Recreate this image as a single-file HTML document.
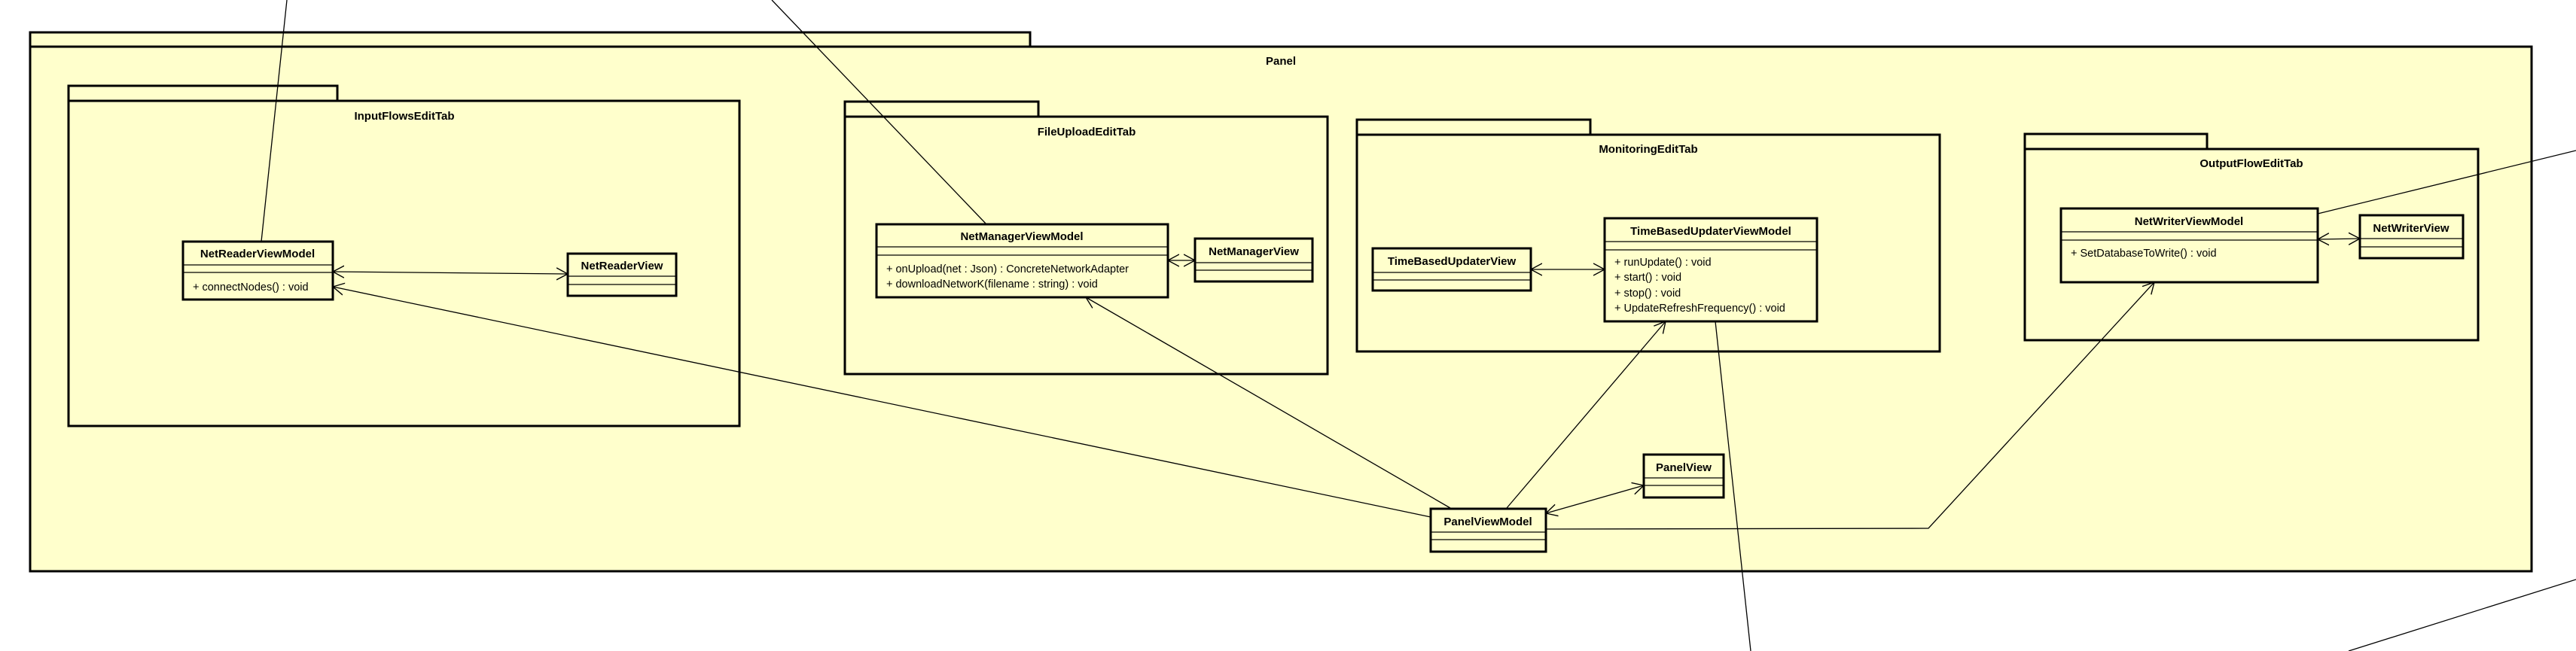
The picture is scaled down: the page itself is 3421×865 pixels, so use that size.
<!DOCTYPE html>
<html><head><meta charset="utf-8"><style>
html,body{margin:0;padding:0;background:#fff;}
svg{display:block;}
text{font-family:"Liberation Sans",Arial,sans-serif;fill:#000;}
.t{font-weight:bold;font-size:15px;}
.m{font-size:14.5px;}
.p{fill:#FFFFCC;stroke:#000;stroke-width:3;}
.c{fill:#FFFFCC;stroke:#000;stroke-width:3;}
.d{stroke:#000;stroke-width:1.3;}
.l{stroke:#000;stroke-width:1.3;fill:none;}
</style></head><body>
<svg width="3421" height="865" viewBox="0 0 3421 865" xmlns="http://www.w3.org/2000/svg">
<defs>
<marker id="a" markerUnits="userSpaceOnUse" markerWidth="20" markerHeight="20" refX="15" refY="8" orient="auto-start-reverse" viewBox="0 0 20 16">
<path d="M0,0 L15,8 L0,16" fill="none" stroke="#000" stroke-width="1.4"/>
</marker>
</defs>

<!-- Panel -->
<rect class="p" x="40" y="43" width="1328" height="19"/>
<rect class="p" x="40" y="62" width="3322" height="697"/>
<text class="t" x="1701" y="86" text-anchor="middle">Panel</text>

<!-- InputFlowsEditTab -->
<rect class="p" x="91" y="114" width="357" height="20"/>
<rect class="p" x="91" y="134" width="891" height="432"/>
<text class="t" x="537" y="159" text-anchor="middle">InputFlowsEditTab</text>

<!-- FileUploadEditTab -->
<rect class="p" x="1122" y="135" width="257" height="20"/>
<rect class="p" x="1122" y="155" width="641" height="342"/>
<text class="t" x="1443" y="180" text-anchor="middle">FileUploadEditTab</text>

<!-- MonitoringEditTab -->
<rect class="p" x="1802" y="159" width="310" height="20"/>
<rect class="p" x="1802" y="179" width="774" height="288"/>
<text class="t" x="2189" y="203" text-anchor="middle">MonitoringEditTab</text>

<!-- OutputFlowEditTab -->
<rect class="p" x="2689" y="178" width="242" height="20"/>
<rect class="p" x="2689" y="198" width="602" height="254"/>
<text class="t" x="2990" y="222" text-anchor="middle">OutputFlowEditTab</text>

<!-- connectors -->
<line class="l" x1="347" y1="321" x2="381" y2="0"/>
<line class="l" x1="1310" y1="298" x2="1025" y2="0"/>
<line class="l" x1="442" y1="361" x2="754" y2="364" marker-start="url(#a)" marker-end="url(#a)"/>
<line class="l" x1="1551" y1="346" x2="1587" y2="346" marker-start="url(#a)" marker-end="url(#a)"/>
<line class="l" x1="2033" y1="358" x2="2131" y2="358" marker-start="url(#a)" marker-end="url(#a)"/>
<line class="l" x1="3078" y1="318" x2="3134" y2="317" marker-start="url(#a)" marker-end="url(#a)"/>
<line class="l" x1="2053" y1="682" x2="2183" y2="645" marker-start="url(#a)" marker-end="url(#a)"/>
<line class="l" x1="1900" y1="687" x2="442" y2="381" marker-end="url(#a)"/>
<line class="l" x1="1926" y1="675" x2="1442" y2="395" marker-end="url(#a)"/>
<line class="l" x1="2001" y1="675" x2="2212" y2="427" marker-end="url(#a)"/>
<polyline class="l" points="2053,703 2561,702 2861,375" marker-end="url(#a)"/>
<line class="l" x1="2278" y1="427" x2="2325" y2="865"/>
<line class="l" x1="3078" y1="284" x2="3421" y2="200"/>
<line class="l" x1="3421" y1="770" x2="3119" y2="865"/>

<!-- NetReaderViewModel -->
<rect class="c" x="243" y="321" width="199" height="77"/>
<line class="d" x1="243" y1="352" x2="442" y2="352"/>
<line class="d" x1="243" y1="362" x2="442" y2="362"/>
<text class="t" x="342" y="342" text-anchor="middle">NetReaderViewModel</text>
<text class="m" x="256" y="386">+ connectNodes() : void</text>

<!-- NetReaderView -->
<rect class="c" x="754" y="337" width="144" height="56"/>
<line class="d" x1="754" y1="367" x2="898" y2="367"/>
<line class="d" x1="754" y1="378" x2="898" y2="378"/>
<text class="t" x="826" y="358" text-anchor="middle">NetReaderView</text>

<!-- NetManagerViewModel -->
<rect class="c" x="1164" y="298" width="387" height="97"/>
<line class="d" x1="1164" y1="328" x2="1551" y2="328"/>
<line class="d" x1="1164" y1="339" x2="1551" y2="339"/>
<text class="t" x="1357" y="319" text-anchor="middle">NetManagerViewModel</text>
<text class="m" x="1177" y="362">+ onUpload(net : Json) : ConcreteNetworkAdapter</text>
<text class="m" x="1177" y="382">+ downloadNetworK(filename : string) : void</text>

<!-- NetManagerView -->
<rect class="c" x="1587" y="317" width="156" height="57"/>
<line class="d" x1="1587" y1="349" x2="1743" y2="349"/>
<line class="d" x1="1587" y1="359" x2="1743" y2="359"/>
<text class="t" x="1665" y="339" text-anchor="middle">NetManagerView</text>

<!-- TimeBasedUpdaterView -->
<rect class="c" x="1823" y="330" width="210" height="56"/>
<line class="d" x1="1823" y1="362" x2="2033" y2="362"/>
<line class="d" x1="1823" y1="372" x2="2033" y2="372"/>
<text class="t" x="1928" y="352" text-anchor="middle">TimeBasedUpdaterView</text>

<!-- TimeBasedUpdaterViewModel -->
<rect class="c" x="2131" y="290" width="282" height="137"/>
<line class="d" x1="2131" y1="321" x2="2413" y2="321"/>
<line class="d" x1="2131" y1="332" x2="2413" y2="332"/>
<text class="t" x="2272" y="312" text-anchor="middle">TimeBasedUpdaterViewModel</text>
<text class="m" x="2144" y="353">+ runUpdate() : void</text>
<text class="m" x="2144" y="373">+ start() : void</text>
<text class="m" x="2144" y="394">+ stop() : void</text>
<text class="m" x="2144" y="414">+ UpdateRefreshFrequency() : void</text>

<!-- PanelView -->
<rect class="c" x="2183" y="604" width="106" height="57"/>
<line class="d" x1="2183" y1="635" x2="2289" y2="635"/>
<line class="d" x1="2183" y1="645" x2="2289" y2="645"/>
<text class="t" x="2236" y="626" text-anchor="middle">PanelView</text>

<!-- PanelViewModel -->
<rect class="c" x="1900" y="676" width="153" height="57"/>
<line class="d" x1="1900" y1="707" x2="2053" y2="707"/>
<line class="d" x1="1900" y1="717" x2="2053" y2="717"/>
<text class="t" x="1976" y="698" text-anchor="middle">PanelViewModel</text>

<!-- NetWriterViewModel -->
<rect class="c" x="2737" y="277" width="341" height="98"/>
<line class="d" x1="2737" y1="308" x2="3078" y2="308"/>
<line class="d" x1="2737" y1="319" x2="3078" y2="319"/>
<text class="t" x="2907" y="299" text-anchor="middle">NetWriterViewModel</text>
<text class="m" x="2750" y="341">+ SetDatabaseToWrite() : void</text>

<!-- NetWriterView -->
<rect class="c" x="3134" y="286" width="137" height="57"/>
<line class="d" x1="3134" y1="317" x2="3271" y2="317"/>
<line class="d" x1="3134" y1="328" x2="3271" y2="328"/>
<text class="t" x="3202" y="308" text-anchor="middle">NetWriterView</text>
</svg>
</body></html>
